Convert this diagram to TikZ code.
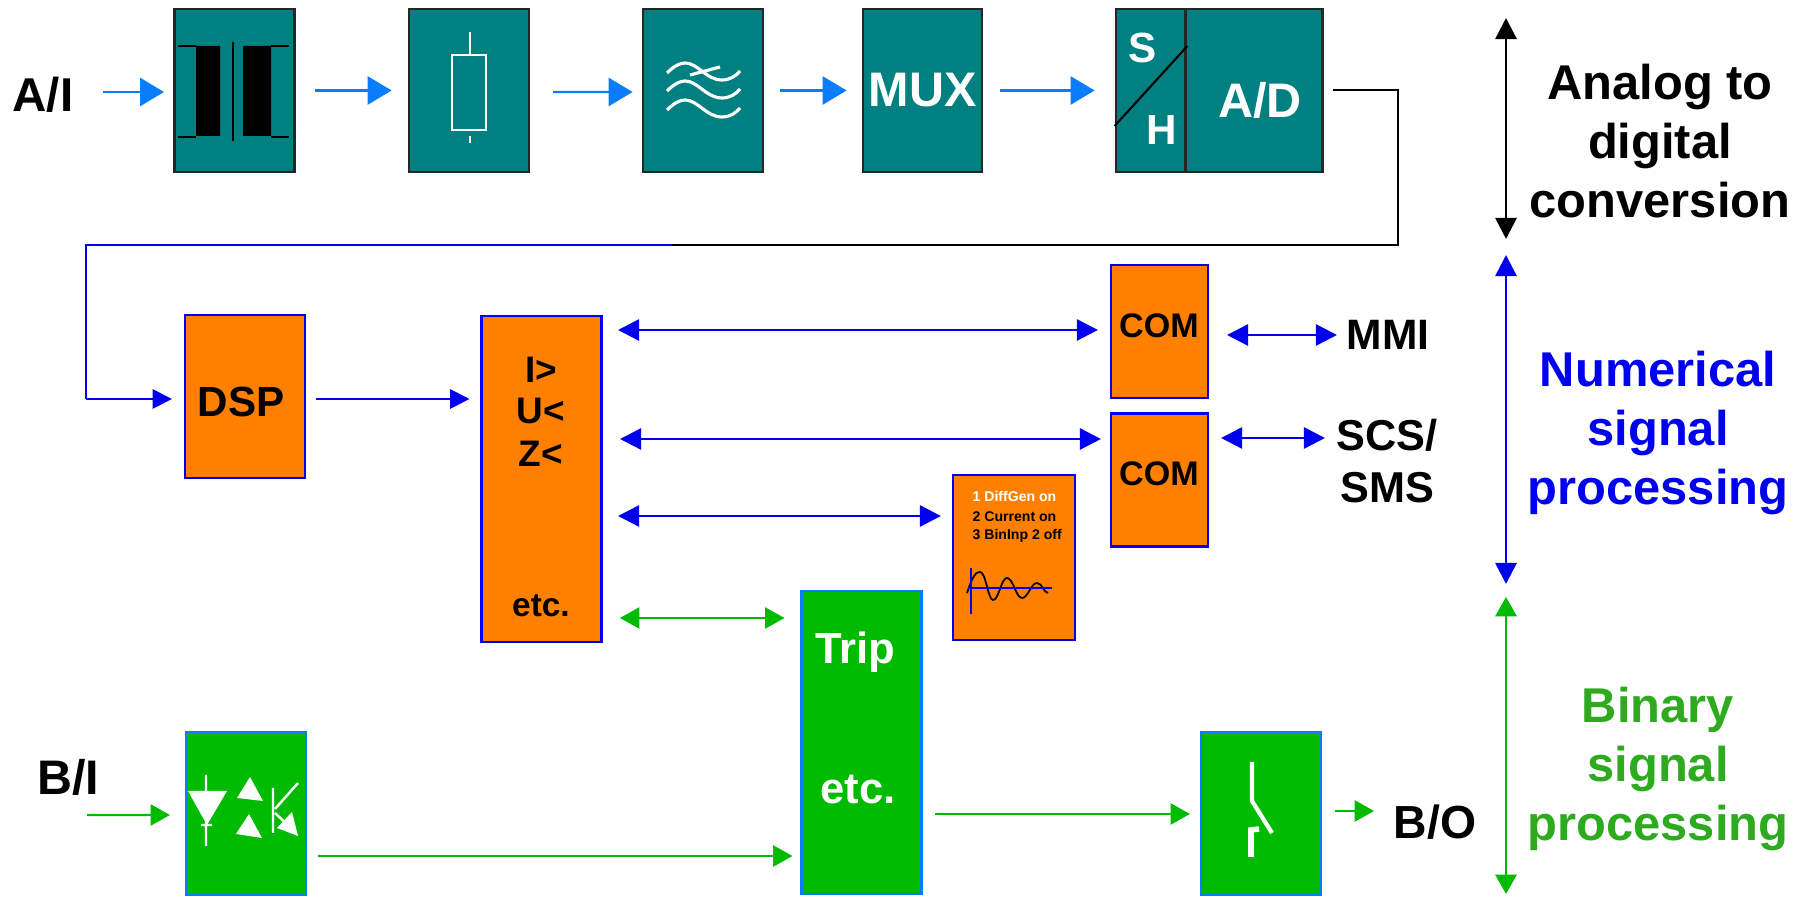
\documentclass[tikz,border=0pt]{standalone}
\usepackage{fontspec}
\setmainfont{Liberation Sans}
\usepackage{tikz}
\usetikzlibrary{shapes, arrows.meta, calc, positioning}
\definecolor{tealbox}{RGB}{0,128,128}
\definecolor{orangebox}{RGB}{255,128,0}
\definecolor{greenbox}{RGB}{0,187,0}
\definecolor{greentxt}{RGB}{45,170,30}
\definecolor{skyline}{RGB}{10,125,255}
\definecolor{blueline}{RGB}{0,0,240}
\newcommand{\fsz}[1]{\bfseries\fontsize{#1pt}{16.8pt}\selectfont}

\begin{document}
\begin{tikzpicture}[x=0.1mm,y=-0.1mm,
    box/.style={draw,inner sep=0pt,line width=0.6pt,minimum width=1.2cm,minimum height=1.63cm,font=\fsz{13.8},text=white},
    tealb/.style={box,fill=tealbox,draw=black!85,line width=0.8pt},
    orangeb/.style={box,fill=orangebox,draw=blueline,text=black},
    greenb/.style={box,fill=greenbox,draw=skyline,text=white},
    lab/.style={inner sep=0pt,font=\fsz{13.5},text=black,align=center},
    skyarrow/.style={skyline,line width=0.6pt,-{Triangle[length=6.8pt,width=8pt]}},
    bluearrow/.style={blueline,line width=0.7pt,{Triangle[length=6pt,width=6pt]}-{Triangle[length=6pt,width=6pt]}},
    greenarrow/.style={greenbox,line width=0.6pt,-{Triangle[length=5.5pt,width=6pt]}},
    greendbl/.style={greenbox,line width=0.6pt,{Triangle[length=5.5pt,width=6pt]}-{Triangle[length=5.5pt,width=6pt]}},
    icon/.style={white,line width=0.7pt}]
    \useasboundingbox (0,0) rectangle (1802,898);

    % top row
    \node[lab] (ai) at (43,95) {A/I};
    \node[tealb] (trafo) at (234.5,90.5) {};
    \node[tealb] (shunt) at (469,90.5) {};
    \node[tealb] (filt) at (703,90.5) {};
    \node[tealb,minimum width=1.19cm] (mux) at (922.5,90.5) {MUX};
    \node[tealb,minimum width=0.7cm] (sh) at (1151,90.5) {};
    \node[tealb,minimum width=1.37cm] (ad) at (1254,90.5) {};
    \node[inner sep=0pt,text=white,font=\fsz{13.8}] (adt) at (1260,100) {A/D};
    \node[inner sep=0pt,text=white,font=\fsz{12}] (st) at (1143,48) {S};
    \node[inner sep=0pt,text=white,font=\fsz{12}] (ht) at (1162,130) {H};
    \draw[black,line width=0.6pt] (sh.west |- 0,126) -- (sh.east |- 0,46);

    % transformer
    \fill[black] (196,46) rectangle (220,136) (243,46) rectangle (271,136);
    \draw[black,line width=0.8pt] (233,42) -- (233,141) (178,46) -- (196,46) (178,137) -- (196,137) (271,46) -- (289,46) (271,137) -- (289,137);
    % shunt
    \draw[icon] (452,55) rectangle (486,130) (470,32) -- (470,55) (470,136) -- (470,143);
    % filter
    \foreach \yy in {0,18,37}
        \draw[icon,line width=0.9pt] (667,73+\yy) .. controls (674,66+\yy) and (680,63+\yy) .. (685,63+\yy) .. controls (698,63+\yy) and (706,80+\yy) .. (722,80+\yy) .. controls (730,80+\yy) and (736,76+\yy) .. (740,71+\yy);
    \draw[icon,line width=0.9pt] (690,75) -- (720,67);

    \draw[skyarrow] (103,92) -- (164,92);
    \draw[skyarrow,shorten <=1.9mm] (trafo.east) -- ($(shunt.west)+(-16,0)$);
    \draw[skyarrow] (553,92) -- ($(filt.west)+(-9,1.5)$);
    \draw[skyarrow,shorten <=1.6mm] (filt.east) -- ($(mux.west)+(-15,0)$);
    \draw[skyarrow,shorten <=1.7mm] (mux.east) -- ($(sh.west)+(-20,0)$);

    % link to second row
    \coordinate (c1) at (1398,90);
    \coordinate (c2) at (1398,245);
    \coordinate (c3) at (672,245);
    \coordinate (c4) at (86,245);
    \coordinate (c5) at (86,399);
    \draw[black,line width=0.7pt,shorten <=0.9mm] (ad.east |- c1) -- (c1) -- (c2) -- (c3);

    % middle
    \node[orangeb] (dsp) at (245,396.5) {};
    \node[inner sep=0pt,font=\fsz{12}] (dspt) at (241,402) {DSP};
    \node[orangeb,minimum height=3.26cm] (logic) at (541.5,479) {};
    \node[inner sep=0pt,font=\fsz{10.5}] (lt1) at (541,370) {I>};
    \node[inner sep=0pt,font=\fsz{10.5}] (lt2) at (541,411) {U<};
    \node[inner sep=0pt,font=\fsz{10.5}] (lt3) at (541,454) {Z<};
    \node[inner sep=0pt,font=\fsz{9.5}] (lt4) at (541,606) {etc.};
    \node[orangeb,minimum width=0.97cm,minimum height=1.33cm] (com1) at (1159.5,331.5) {};
    \node[orangeb,minimum width=0.97cm,minimum height=1.33cm] (com2) at (1159.5,480) {};
    \node[inner sep=0pt,font=\fsz{9.7}] (comt1) at (1159,326) {COM};
    \node[inner sep=0pt,font=\fsz{9.7}] (comt2) at (1159,474) {COM};
    \node[orangeb,minimum width=1.22cm,minimum height=1.65cm] (rec) at (1014,557.5) {};
    \node[inner sep=0pt,anchor=west,font=\fsz{4},text=white] (rt1) at (972,496) {1 DiffGen on};
    \node[inner sep=0pt,anchor=west,font=\fsz{4}] (rt2) at (972,517) {2 Current on};
    \node[inner sep=0pt,anchor=west,font=\fsz{4}] (rt3) at (972,536) {3 BinInp 2 off};
    \draw[black,line width=0.5pt] (967,593) .. controls (973,575) and (976,572) .. (980,572) .. controls (986,572) and (988,600) .. (993,600)
        .. controls (999,600) and (1001,578) .. (1007,578) .. controls (1013,578) and (1016,598) .. (1022,598)
        .. controls (1028,598) and (1031,583) .. (1037,583) .. controls (1042,583) and (1044,593) .. (1048,593);
    \draw[blueline,line width=0.7pt] (971,568) -- (971,614) (968,588) -- (1052,588);

    \node[lab,font=\fsz{12.1}] (mmi) at (1388,335) {MMI};
    \node[lab,font=\bfseries\fontsize{12.3pt}{14.8pt}\selectfont] (scs) at (1387,461) {SCS/\\SMS};

    \draw[blueline,line width=0.6pt] (c3) -- (c4) -- (c5);
    \draw[blueline,line width=0.6pt,-{Triangle[length=5.5pt,width=5.5pt]}] (c5) -- ($(dsp.west |- c5)+(-12,0)$);
    \draw[blueline,line width=0.6pt,shorten <=1mm,-{Triangle[length=5.5pt,width=5.5pt]}] (dsp.east |- c5) -- ($(logic.west |- c5)+(-11,0)$);

    \coordinate (l1) at (618,330);
    \coordinate (l2) at (620,439);
    \coordinate (l3) at (618,516);
    \coordinate (l4) at (620,618);
    \coordinate (m1) at (1227,335);
    \coordinate (m2) at (1337,335);
    \coordinate (s1) at (1221,438);
    \coordinate (s2) at (1325,438);
    \draw[bluearrow,shorten >=1.2mm] (l1) -- (com1.west |- l1);
    \draw[bluearrow,shorten >=0.9mm] (l2) -- (com2.west |- l2);
    \draw[bluearrow,shorten >=1.1mm] (l3) -- (rec.west |- l3);
    \draw[bluearrow] (m1) -- (m2);
    \draw[bluearrow] (s1) -- (s2);

    % bottom
    \node[greenb,minimum height=3.03cm] (trip) at (861.5,742.5) {};
    \node[inner sep=0pt,text=white,font=\fsz{12.4}] (tt1) at (855,652) {Trip};
    \node[inner sep=0pt,text=white,font=\fsz{12.4}] (tt2) at (858,790) {etc.};
    \node[greenb] (bi) at (246,813.5) {};
    \node[greenb] (bo) at (1261,813.5) {};
    \node[lab,font=\fsz{13.8}] (bit) at (68,777) {B/I};
    \node[lab,font=\fsz{13.2}] (bot) at (1435,822) {B/O};

    % optocoupler
    \fill[white] (188,791) -- (227,791) -- (207,825) -- cycle (250,777) -- (237,798) -- (263,801) -- cycle (249,814) -- (236,834) -- (262,838) -- cycle (292,812) -- (298,836) -- (277,828) -- cycle;
    \draw[icon] (206,775) -- (206,846) (201,825) -- (212,825) (273,788) -- (273,833) (298,783) -- (275,809) (275,813) -- (293,830);
    % contact
    \draw[icon,line width=1.2pt] (1252,762) -- (1252,801) -- (1272,833);
    \draw[icon,line width=1.6pt] (1251,857) -- (1251,830) -- (1259,829);

    \coordinate (i1) at (87,815);
    \coordinate (o1) at (1335,811);
    \coordinate (o2) at (1374,811);
    \coordinate (q1) at (318,856);
    \coordinate (q2) at (935,814);
    \draw[greenarrow] (i1) -- ($(bi.west)+(-15,1.5)$);
    \draw[greenarrow] (q1) -- ($(trip.west |- q1)+(-8,0)$);
    \draw[greenarrow] (q2) -- ($(bo.west |- q2)+(-10,0)$);
    \draw[greenarrow] (o1) -- (o2);
    \draw[greendbl] (l4) -- ($(trip.west |- l4)+(-16,0)$);

    % right column
    \coordinate (r1) at (1506,18);
    \coordinate (r2) at (1506,239);
    \coordinate (r3) at (1506,255);
    \coordinate (r4) at (1506,584);
    \coordinate (r5) at (1506,597);
    \coordinate (r6) at (1506,894);
    \draw[black,line width=0.8pt,{Triangle[length=6pt,width=6pt]}-{Triangle[length=6pt,width=6pt]}] (r1) -- (r2);
    \draw[bluearrow,line width=0.8pt] (r3) -- (r4);
    \draw[greendbl,line width=0.8pt] (r5) -- (r6);
    \node[lab,font=\fsz{13.9}] (tx1) at (1660,141) {Analog to\\digital\\conversion};
    \node[lab,font=\fsz{13.9},text=blueline] (tx2) at (1658,433) {Numerical\\signal\\processing};
    \node[lab,font=\fsz{13.9},text=greentxt] (tx3) at (1658,769) {Binary\\signal\\processing};
\end{tikzpicture}
\end{document}
